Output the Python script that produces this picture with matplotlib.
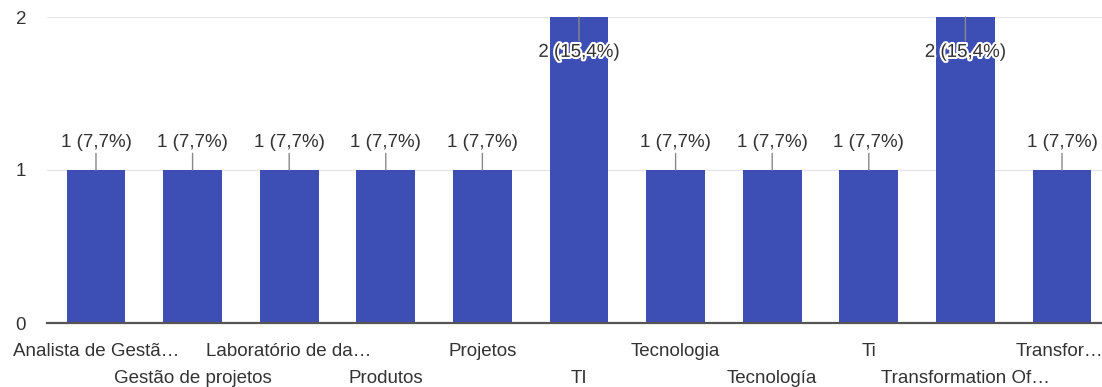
import matplotlib.pyplot as plt
import matplotlib.patheffects as pe
from matplotlib.transforms import ScaledTranslation

plt.rcParams['font.family'] = ['Liberation Sans', 'DejaVu Sans']

categories = ['Analista de Gestã…', 'Gestão de projetos', 'Laboratório de da…', 'Produtos',
              'Projetos', 'TI', 'Tecnologia', 'Tecnología', 'Ti', 'Transformation Of…', 'Transfor…']
counts = [1, 1, 1, 1, 1, 2, 1, 1, 1, 2, 1]
percents = ['7,7', '7,7', '7,7', '7,7', '7,7', '15,4', '7,7', '7,7', '7,7', '15,4', '7,7']

bar_color = '#3d4fb5'
text_color = '#333333'
fs = 13.5

fig = plt.figure(figsize=(11.02, 3.87), dpi=100)
ax = fig.add_axes([47 / 1102, 1 - 323 / 387, 1 - 47 / 1102, (323 - 17) / 387])

x = list(range(len(categories)))
ax.bar(x, counts, width=0.61, color=bar_color, zorder=2)

ax.set_ylim(0, 2)
ax.set_xlim(-0.507, 10.414)
ax.set_yticks([0, 1, 2])
ax.yaxis.grid(True, color='#e6e6e6', lw=1, zorder=0)

for s in ['top', 'right', 'left']:
    ax.spines[s].set_visible(False)
ax.spines['bottom'].set_color('#555555')
ax.spines['bottom'].set_linewidth(1.6)
ax.spines['bottom'].set_zorder(3)

ax.set_xticks(x)
ax.set_xticklabels(categories, fontsize=fs, color=text_color)
ax.tick_params(axis='x', length=0, pad=14.5)
ax.tick_params(axis='y', length=0, pad=15, labelsize=fs, labelcolor=text_color)

# every second label goes on a lower row; the last one is nudged inside the edge
shift = ScaledTranslation(0, -27 / 100, fig.dpi_scale_trans)
nudge = ScaledTranslation(-3 / 100, 0, fig.dpi_scale_trans)
ticklabels = ax.get_xticklabels()
for i, lbl in enumerate(ticklabels):
    if i % 2 == 1:
        lbl.set_transform(lbl.get_transform() + shift)
ticklabels[-1].set_transform(ticklabels[-1].get_transform() + nudge)

top = max(counts)
for xi, v, p in zip(x, counts, percents):
    label = f'{v} ({p}%)'
    if v < top:
        ax.annotate('', xy=(xi, v), xytext=(0, 12), textcoords='offset points',
                    arrowprops=dict(arrowstyle='-', color='#888888', lw=1,
                                    shrinkA=0, shrinkB=0), zorder=3)
        ax.annotate(label, xy=(xi, v), xytext=(0, 19.5), textcoords='offset points',
                    ha='center', va='center', fontsize=fs, color=text_color, zorder=4)
    else:
        ax.annotate('', xy=(xi, v), xytext=(0, -17), textcoords='offset points',
                    arrowprops=dict(arrowstyle='-', color='#888888', lw=1,
                                    shrinkA=0, shrinkB=0), zorder=3)
        ax.annotate(label, xy=(xi, v), xytext=(0, -25.5), textcoords='offset points',
                    ha='center', va='center', fontsize=fs, color=text_color, zorder=4,
                    path_effects=[pe.withStroke(linewidth=3, foreground='white')])

fig.savefig('out.png', dpi=100)
